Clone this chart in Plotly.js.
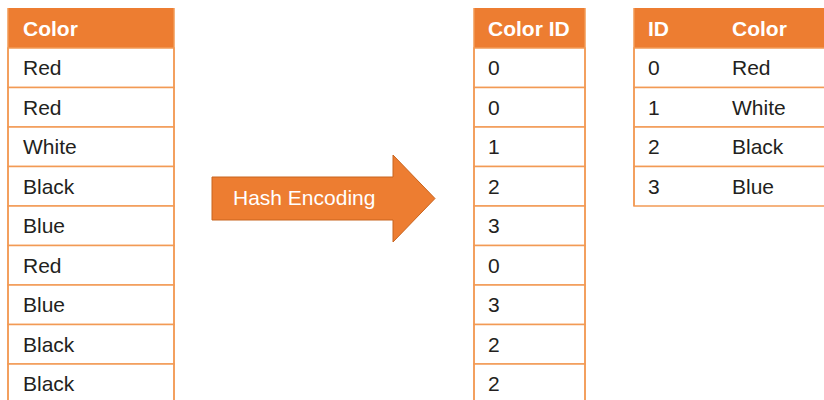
<!DOCTYPE html>
<html>
<head>
<meta charset="utf-8">
<script src="https://cdn.plot.ly/plotly-3.0.1.min.js"></script>
<style>html,body{margin:0;padding:0;background:#fff;}#chart{width:824px;height:400px;}</style>
</head>
<body>
<div id="chart"></div>
<script>
// ---- data ----
const sourceHeader = ['Color'];
const sourceColors = ['Red','Red','White','Black','Blue','Red','Blue','Black','Black'];
const encodedHeader = ['Color ID'];
const colorIds = [0,0,1,2,3,0,3,2,2];
const lookupHeader = ['ID','Color'];
const lookupIds = [0,1,2,3];
const lookupColors = ['Red','White','Black','Blue'];
const arrowLabel = 'Hash Encoding';

// ---- styles ----
const HEADER_FILL = '#ED7D31';
const LINE = '#F29A55';
const TXT = '#231F20';
const FONT = 'Liberation Sans, Arial, Helvetica, sans-serif';
const TOP = 8, HEAD_H = 40, ROW_H = 39.5, FS = 21;

const shapes = [];
const annotations = [];

function addTable(x0, colStarts, x1, header, columns) {
  const nRows = columns[0].length;
  shapes.push({type:'rect', xref:'x', yref:'y', x0:x0, x1:x1, y0:TOP, y1:TOP+HEAD_H,
    fillcolor:HEADER_FILL, line:{width:0}, layer:'below'});
  header.forEach((h, c) => annotations.push({x:colStarts[c], y:TOP+HEAD_H/2, xref:'x', yref:'y',
    text:'<b>'+h+'</b>', showarrow:false, xanchor:'left', yanchor:'middle',
    font:{family:FONT, size:FS, color:'#ffffff'}}));
  for (let r = 0; r < nRows; r++) {
    const y0 = TOP + HEAD_H + r*ROW_H, y1 = y0 + ROW_H;
    shapes.push({type:'rect', xref:'x', yref:'y', x0:x0, x1:x1, y0:y0, y1:y1,
      fillcolor:'#ffffff', line:{color:LINE, width:1.5}});
    columns.forEach((col, c) => annotations.push({x:colStarts[c], y:(y0+y1)/2, xref:'x', yref:'y',
      text:String(col[r]), showarrow:false, xanchor:'left', yanchor:'middle',
      font:{family:FONT, size:FS, color:TXT}}));
  }
  shapes.push({type:'line', xref:'x', yref:'y', x0:x0, x1:x0, y0:TOP, y1:TOP+HEAD_H+nRows*ROW_H,
    line:{color:LINE, width:1.5}});
  shapes.push({type:'line', xref:'x', yref:'y', x0:x1, x1:x1, y0:TOP, y1:TOP+HEAD_H+nRows*ROW_H,
    line:{color:LINE, width:1.5}});
}

addTable(8, [21], 174, sourceHeader, [sourceColors]);
addTable(474, [486], 585, encodedHeader, [colorIds]);
addTable(634, [646, 730], 830, lookupHeader, [lookupIds, lookupColors]);

// arrow
shapes.push({type:'path', xref:'x', yref:'y',
  path:'M212,177 L393,177 L393,155 L435,198.5 L393,242 L393,220 L212,220 Z',
  fillcolor:'#ED7D31', line:{color:'#C8641E', width:1}});
annotations.push({x:231, y:197, xref:'x', yref:'y', text:arrowLabel, showarrow:false,
  xanchor:'left', yanchor:'middle', font:{family:FONT, size:21, color:'#ffffff'}});

const layout = {
  width:824, height:400,
  margin:{l:0, r:0, t:0, b:0},
  paper_bgcolor:'#ffffff', plot_bgcolor:'#ffffff',
  xaxis:{range:[0,824], visible:false, fixedrange:true},
  yaxis:{range:[400,0], visible:false, fixedrange:true},
  showlegend:false,
  shapes:shapes,
  annotations:annotations
};

Plotly.newPlot('chart', [{x:[], y:[], type:'scatter', hoverinfo:'skip'}], layout, {staticPlot:true, displayModeBar:false});
</script>
</body>
</html>
